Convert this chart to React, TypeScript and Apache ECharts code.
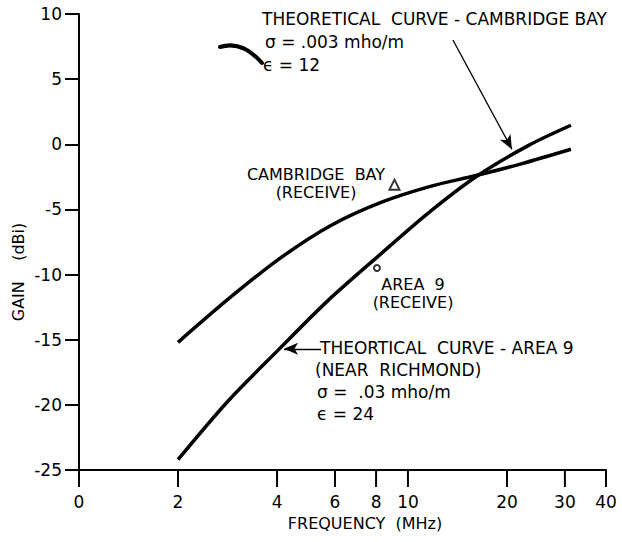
import React, { useEffect, useRef } from "react";
import * as echarts from "echarts";

const xTickValues = [1, 2, 4, 6, 8, 10, 20, 30, 40];
const xTickLabels = ["0", "2", "4", "6", "8", "10", "20", "30", "40"];

const cambridgeFreq = [2, 2.9, 4.11, 5.83, 8.28, 11.7, 16.1, 22.1, 31.3];
const cambridgeGain = [-15.2, -11.7, -8.7, -6.23, -4.46, -3.23, -2.4, -1.5, -0.38];

const area9Freq = [2, 2.84, 4.03, 5.71, 8.11, 11.5, 16.3, 23.2, 31.3];
const area9Gain = [-24.2, -19.7, -15.8, -12.0, -8.6, -5.3, -2.4, -0.1, 1.46];

const cambridgeReceive = [[9.1, -3.1]];
const area9Receive = [[8.05, -9.5]];

const FONT = "DejaVu Sans";

export default function App() {
  const ref = useRef<HTMLDivElement>(null);
  useEffect(() => {
    if (!ref.current) return;
    const chart = echarts.init(ref.current, null, { renderer: "svg" });
    const txt = (text: string, x: number, y: number, size = 17, align = "left", lh?: number) => ({
      type: "text",
      x,
      y,
      style: {
        text,
        fill: "#000",
        fontSize: size,
        fontFamily: FONT,
        textAlign: align,
        textVerticalAlign: "middle",
        lineHeight: lh,
      },
    });
    chart.setOption({
      animation: false,
      backgroundColor: "#fff",
      grid: { left: 79, right: 16, top: 14, bottom: 72 },
      xAxis: {
        type: "log",
        logBase: 10,
        min: 1,
        max: 40,
        axisLine: { show: true, onZero: false, lineStyle: { color: "#000", width: 2 } },
        axisTick: { show: false },
        axisLabel: { show: false },
        splitLine: { show: false },
        minorTick: { show: false },
      },
      yAxis: {
        type: "value",
        min: -25,
        max: 10,
        interval: 5,
        axisLine: { show: true, lineStyle: { color: "#000", width: 2 } },
        axisTick: { show: true, length: 14, lineStyle: { color: "#000", width: 2 } },
        axisLabel: { color: "#000", fontSize: 17, fontFamily: FONT, margin: 17 },
        splitLine: { show: false },
      },
      series: [
        {
          type: "line",
          data: cambridgeFreq.map((f, i) => [f, cambridgeGain[i]]),
          smooth: 0.3,
          showSymbol: false,
          lineStyle: { color: "#000", width: 3.5 },
        },
        {
          type: "line",
          data: area9Freq.map((f, i) => [f, area9Gain[i]]),
          smooth: 0.3,
          showSymbol: false,
          lineStyle: { color: "#000", width: 3.5 },
          markLine: {
            silent: true,
            symbolSize: [9, 14],
            label: { show: false },
            lineStyle: { color: "#000", width: 1.3, type: "solid" },
            data: [
              [
                { coord: [13.7, 8.0], symbol: "none" },
                { coord: [20.7, -0.38], symbol: "arrow" },
              ],
              [
                { coord: [5.44, -15.7], symbol: "none" },
                { coord: [4.2, -15.7], symbol: "arrow" },
              ],
            ],
          },
        },
        {
          type: "scatter",
          data: cambridgeReceive,
          symbol: "triangle",
          symbolSize: 10,
          itemStyle: { color: "#fff", borderColor: "#000", borderWidth: 2 },
        },
        {
          type: "scatter",
          data: area9Receive,
          symbol: "circle",
          symbolSize: 6,
          itemStyle: { color: "#fff", borderColor: "#000", borderWidth: 2 },
        },
        {
          type: "custom",
          clip: false,
          silent: true,
          data: xTickValues.map((v, i) => [v, i]),
          renderItem: (params: any, api: any) => {
            const v = api.value(0);
            const idx = api.value(1);
            const p = api.coord([v, -25]);
            return {
              type: "group",
              children: [
                {
                  type: "line",
                  shape: { x1: p[0], y1: p[1], x2: p[0], y2: p[1] + 17 },
                  style: { stroke: "#000", lineWidth: 2 },
                },
                {
                  type: "text",
                  x: p[0],
                  y: p[1] + 32,
                  style: {
                    text: xTickLabels[idx],
                    fill: "#000",
                    fontSize: 17,
                    fontFamily: FONT,
                    textAlign: "center",
                    textVerticalAlign: "middle",
                  },
                },
              ],
            };
          },
        },
      ],
      graphic: [
        txt("THEORETICAL  CURVE - CAMBRIDGE BAY", 262, 19),
        txt("σ = .003 mho/m", 265, 42),
        txt("ϵ = 12", 263, 65),
        txt("CAMBRIDGE  BAY\n(RECEIVE)", 316, 183, 16, "center", 18),
        txt("AREA  9\n(RECEIVE)", 413, 293, 16, "center", 18),
        txt("THEORTICAL  CURVE - AREA 9", 320, 348),
        txt("(NEAR  RICHMOND)", 315, 370),
        txt("σ =  .03 mho/m", 317, 392),
        txt("ϵ = 24", 317, 414),
        txt("FREQUENCY  (MHz)", 365, 523, 16, "center"),
        {
          type: "text",
          x: 18,
          y: 272,
          rotation: Math.PI / 2,
          style: {
            text: "GAIN    (dBi)",
            fill: "#000",
            fontSize: 16,
            fontFamily: FONT,
            textAlign: "center",
            textVerticalAlign: "middle",
          },
        },
        {
          type: "bezierCurve",
          shape: { x1: 220, y1: 47, x2: 262, y2: 63, cpx1: 242, cpy1: 40 },
          style: { stroke: "#000", lineWidth: 4, fill: null, lineCap: "round" },
        },
      ],
    });
    return () => chart.dispose();
  }, []);
  return (
    <div
      ref={ref}
      style={{ position: "fixed", left: 0, top: 0, width: 622, height: 542 }}
    />
  );
}
